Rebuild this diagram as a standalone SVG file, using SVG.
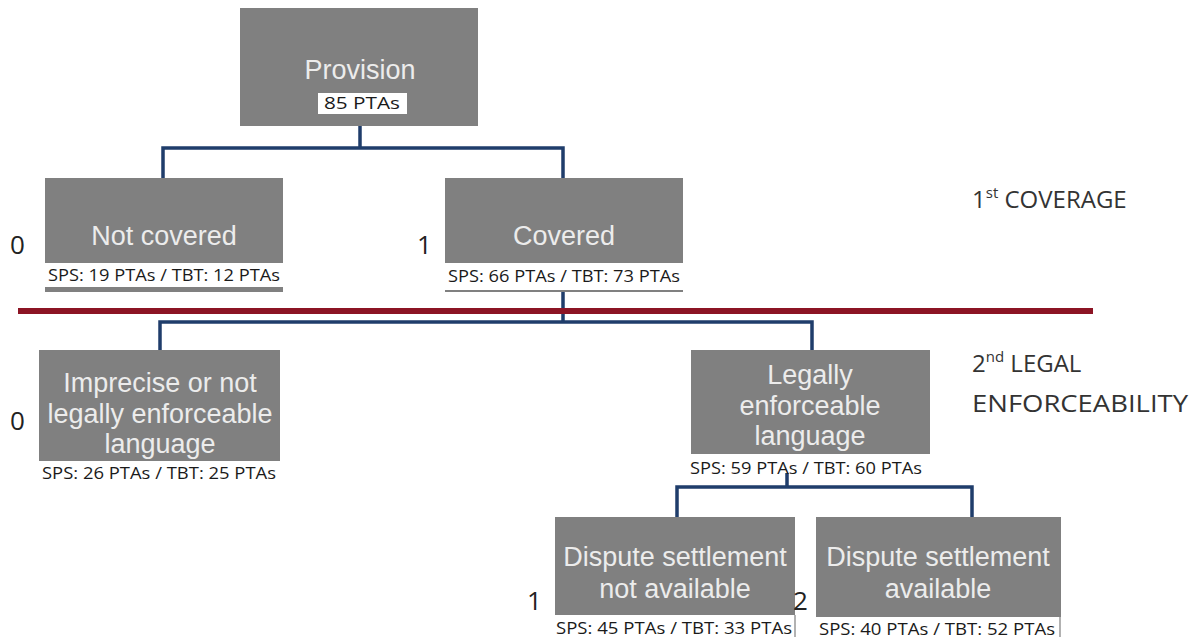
<svg xmlns="http://www.w3.org/2000/svg" width="1196" height="639" viewBox="0 0 1196 639">
<style>
.box{fill:#808080}
.big{font-family:"Liberation Sans",Arial,sans-serif;font-size:27px;fill:#ececec;text-anchor:middle}
.lab{font-family:"Open Sans","Liberation Sans",sans-serif;font-size:15.5px;fill:#1a1a1a;text-anchor:middle}
.num{font-family:"Open Sans","Liberation Sans",sans-serif;font-size:26px;fill:#222}
.lvl{font-family:"Open Sans","Liberation Sans",sans-serif;font-size:24px;fill:#333}
.wl{fill:#ffffff}
.con{fill:none;stroke:#1f3d6b;stroke-width:3.5}
</style>
<rect width="1196" height="639" fill="#ffffff"/>
<g id="connectors">
<path class="con" d="M360 126V148M163 179V148H563V179"/>
<path class="con" d="M563 292V322M160 351V322H812V351"/>
<path class="con" d="M787 473V487M677 518V487H972V518"/>
</g>
<line id="divider" x1="18" y1="311" x2="1093" y2="311" stroke="#8c1424" stroke-width="6"/>
<g id="provision">
<rect class="box" x="240" y="8" width="238" height="118"/>
<text class="big" x="360" y="79">Provision</text>
<rect class="wl" x="318" y="93" width="89" height="21"/>
<text class="lab" x="362" y="109" textLength="76" lengthAdjust="spacingAndGlyphs">85 PTAs</text>
</g>
<g id="not-covered">
<rect class="box" x="45" y="178" width="238" height="114"/>
<text class="big" x="164" y="245">Not covered</text>
<rect class="wl" x="45" y="263" width="238" height="24"/>
<text class="lab" x="164" y="281" textLength="232" lengthAdjust="spacingAndGlyphs">SPS: 19 PTAs / TBT: 12 PTAs</text>
<text class="num" x="10" y="254">0</text>
</g>
<g id="covered">
<rect class="box" x="445" y="178" width="238" height="114"/>
<text class="big" x="564" y="245">Covered</text>
<rect class="wl" x="445" y="263" width="238" height="27"/>
<text class="lab" x="564" y="282" textLength="232" lengthAdjust="spacingAndGlyphs">SPS: 66 PTAs / TBT: 73 PTAs</text>
<text class="num" x="417" y="254">1</text>
</g>
<g id="imprecise">
<rect class="box" x="39" y="350" width="241" height="111"/>
<text class="big" x="160" y="392" font-size="28">Imprecise or not</text>
<text class="big" x="160" y="423" font-size="28">legally enforceable</text>
<text class="big" x="160" y="453" font-size="28">language</text>
<rect class="wl" x="40" y="461" width="238" height="23"/>
<text class="lab" x="159" y="479" textLength="234" lengthAdjust="spacingAndGlyphs">SPS: 26 PTAs / TBT: 25 PTAs</text>
<text class="num" x="10" y="430">0</text>
</g>
<g id="legally">
<rect class="box" x="691" y="350" width="239" height="104"/>
<text class="big" x="810" y="384" font-size="28">Legally</text>
<text class="big" x="810" y="415" font-size="28">enforceable</text>
<text class="big" x="810" y="445" font-size="28">language</text>
<text class="lab" x="806" y="474" textLength="232" lengthAdjust="spacingAndGlyphs">SPS: 59 PTAs / TBT: 60 PTAs</text>
</g>
<g id="ds-not">
<rect class="box" x="555" y="517" width="240" height="98"/>
<text class="big" x="675" y="566" font-size="28">Dispute settlement</text>
<text class="big" x="675" y="598" font-size="28">not available</text>
<rect class="wl" x="555" y="615" width="240" height="24"/>
<line x1="795" y1="615" x2="795" y2="637" stroke="#999" stroke-width="1.5"/>
<text class="lab" x="674" y="634" textLength="236" lengthAdjust="spacingAndGlyphs">SPS: 45 PTAs / TBT: 33 PTAs</text>
<text class="num" x="527" y="610">1</text>
</g>
<g id="ds-avail">
<rect class="box" x="816" y="517" width="245" height="100"/>
<text class="big" x="938" y="566" font-size="28">Dispute settlement</text>
<text class="big" x="938" y="598" font-size="28">available</text>
<rect class="wl" x="816" y="617" width="245" height="22"/>
<line x1="1060" y1="617" x2="1060" y2="637" stroke="#999" stroke-width="1.5"/>
<text class="lab" x="937" y="635" textLength="236" lengthAdjust="spacingAndGlyphs">SPS: 40 PTAs / TBT: 52 PTAs</text>
<text class="num" x="793" y="610">2</text>
</g>
<g id="levels">
<text class="lvl" x="972" y="208">1<tspan font-size="15" dy="-10">st</tspan><tspan dy="10"> COVERAGE</tspan></text>
<text class="lvl" x="972" y="372">2<tspan font-size="15" dy="-10">nd</tspan><tspan dy="10"> LEGAL</tspan></text>
<text class="lvl" x="972" y="412" textLength="216" lengthAdjust="spacingAndGlyphs">ENFORCEABILITY</text>
</g>
</svg>
